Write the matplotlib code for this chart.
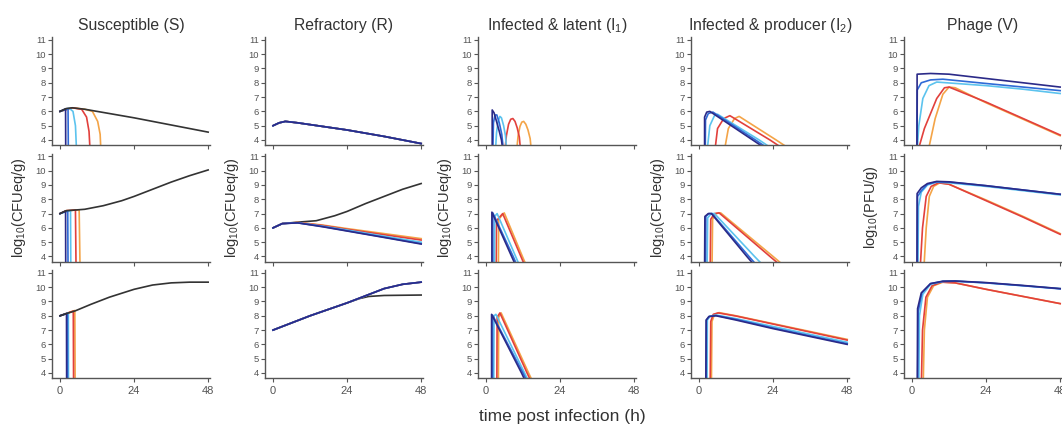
import matplotlib
matplotlib.use('Agg')
import matplotlib.pyplot as plt

plt.rcParams['font.family'] = ['Liberation Sans', 'DejaVu Sans']
plt.rcParams['mathtext.default'] = 'regular'

# ---------------- data (time h, log10 value) ----------------
titles = ['Susceptible (S)', 'Refractory (R)', r'Infected & latent (I$_1$)',
          r'Infected & producer (I$_2$)', 'Phage (V)']
ylabels = [r'log$_{10}$(CFUeq/g)'] * 4 + [r'log$_{10}$(PFU/g)']
xticks = [0, 24, 48]
yticks = [4, 5, 6, 7, 8, 9, 10, 11]
xlabel = 'time post infection (h)'

# Susceptible
S1 = dict(
    black=[(0, 6.0), (2, 6.2), (4, 6.25), (8, 6.15), (16, 5.85), (24, 5.55), (36, 5.05), (48, 4.55)],
    navy=[(0, 6.0), (1.8, 6.18), (1.85, 3.0)],
    blue=[(0, 6.0), (2.6, 6.2), (2.7, 3.0)],
    cyan=[(0, 6.0), (3, 6.22), (4.2, 6.0), (5.0, 5.0), (5.4, 3.0)],
    red=[(0, 6.0), (4, 6.25), (7, 6.15), (8.6, 5.6), (9.4, 4.6), (9.8, 3.0)],
    orange=[(0, 6.0), (4, 6.25), (8, 6.15), (10.5, 6.0), (12.2, 5.3), (13.0, 4.4), (13.3, 3.0)])
S2 = dict(
    black=[(0, 7.0), (2, 7.2), (8, 7.3), (14, 7.55), (20, 7.9), (24, 8.2), (30, 8.7), (36, 9.2), (42, 9.65), (48, 10.05)],
    navy=[(0, 7.0), (1.8, 7.18), (1.85, 3.0)],
    blue=[(0, 7.0), (2.5, 7.2), (2.6, 3.0)],
    cyan=[(0, 7.0), (3.4, 7.22), (3.5, 3.0)],
    red=[(0, 7.0), (2, 7.2), (5.0, 7.25), (5.2, 3.0)],
    orange=[(0, 7.0), (2, 7.2), (6.2, 7.26), (6.5, 3.0)])
S3 = dict(
    black=[(0, 8.0), (2, 8.15), (5, 8.35), (10, 8.8), (16, 9.3), (24, 9.85), (30, 10.15), (36, 10.3), (42, 10.35), (48, 10.35)],
    navy=[(0, 8.0), (2.1, 8.15), (2.15, 3.0)],
    blue=[(0, 8.0), (2.4, 8.18), (2.45, 3.0)],
    cyan=[(0, 8.0), (2.7, 8.2), (2.75, 3.0)],
    red=[(0, 8.0), (4.3, 8.33), (4.4, 3.0)],
    orange=[(0, 8.0), (4.8, 8.37), (4.9, 3.0)])

# Refractory
R1 = dict(
    black=[(0, 5.0), (2, 5.2), (4, 5.3), (8, 5.2), (16, 4.95), (24, 4.7), (36, 4.25), (48, 3.75)],
    orange=[(0, 5.0), (2, 5.2), (4, 5.3), (8, 5.2), (16, 4.95), (24, 4.7), (36, 4.25), (48, 3.75)],
    red=[(0, 5.0), (2, 5.2), (4, 5.3), (8, 5.2), (16, 4.95), (24, 4.7), (36, 4.25), (48, 3.75)],
    cyan=[(0, 5.0), (2, 5.2), (4, 5.3), (8, 5.2), (16, 4.95), (24, 4.7), (36, 4.25), (48, 3.75)],
    blue=[(0, 5.0), (2, 5.2), (4, 5.3), (8, 5.2), (16, 4.95), (24, 4.7), (36, 4.25), (48, 3.75)],
    navy=[(0, 5.0), (2, 5.2), (4, 5.3), (8, 5.2), (16, 4.95), (24, 4.7), (36, 4.25), (48, 3.75)])
R2 = dict(
    black=[(0, 6.0), (3, 6.3), (8, 6.4), (14, 6.5), (20, 6.85), (24, 7.15), (30, 7.7), (36, 8.2), (42, 8.7), (48, 9.1)],
    orange=[(0, 6.0), (3, 6.3), (8, 6.38), (16, 6.2), (24, 5.95), (36, 5.6), (48, 5.25)],
    red=[(0, 6.0), (3, 6.3), (8, 6.37), (16, 6.17), (24, 5.9), (36, 5.52), (48, 5.15)],
    cyan=[(0, 6.0), (3, 6.3), (8, 6.36), (16, 6.12), (24, 5.85), (36, 5.42), (48, 5.0)],
    blue=[(0, 6.0), (3, 6.3), (8, 6.35), (16, 6.1), (24, 5.8), (36, 5.35), (48, 4.9)],
    navy=[(0, 6.0), (3, 6.3), (8, 6.35), (16, 6.08), (24, 5.78), (36, 5.33), (48, 4.87)])
R3 = dict(
    black=[(0, 7.0), (6, 7.5), (12, 8.0), (18, 8.45), (24, 8.9), (28, 9.2), (31, 9.35), (36, 9.42), (48, 9.45)],
    orange=[(0, 7.0), (6, 7.5), (12, 8.0), (18, 8.45), (24, 8.9), (30, 9.4), (36, 9.9), (42, 10.2), (48, 10.35)],
    red=[(0, 7.0), (6, 7.5), (12, 8.0), (18, 8.45), (24, 8.9), (30, 9.4), (36, 9.9), (42, 10.2), (48, 10.35)],
    cyan=[(0, 7.0), (6, 7.5), (12, 8.0), (18, 8.45), (24, 8.9), (30, 9.4), (36, 9.9), (42, 10.2), (48, 10.35)],
    blue=[(0, 7.0), (6, 7.5), (12, 8.0), (18, 8.45), (24, 8.9), (30, 9.4), (36, 9.9), (42, 10.2), (48, 10.35)],
    navy=[(0, 7.0), (6, 7.5), (12, 8.0), (18, 8.45), (24, 8.9), (30, 9.4), (36, 9.9), (42, 10.2), (48, 10.35)])

# Infected & latent
I1a = dict(
    orange=[(9.8, 3.0), (10.4, 4.3), (11.0, 4.95), (11.6, 5.25), (12.2, 5.3), (12.9, 5.1), (13.6, 4.7), (14.3, 4.1), (14.8, 3.0)],
    red=[(6.0, 3.0), (6.6, 4.3), (7.3, 5.1), (8.0, 5.45), (8.7, 5.5), (9.4, 5.3), (10.1, 4.85), (10.8, 4.2), (11.3, 3.0)],
    cyan=[(3.0, 3.0), (3.4, 4.5), (3.9, 5.3), (4.5, 5.65), (5.0, 5.55), (5.7, 5.0), (6.3, 4.3), (6.8, 3.0)],
    blue=[(2.2, 3.0), (2.4, 5.2), (2.9, 5.75), (3.5, 5.75), (4.3, 5.2), (5.1, 4.4), (5.8, 3.0)],
    navy=[(2.0, 3.0), (2.0, 6.1), (2.6, 5.9), (3.4, 5.3), (4.3, 4.6), (5.0, 4.0), (5.6, 3.0)])
I1b = dict(
    orange=[(4.0, 3.0), (4.1, 6.6), (5.9, 7.05), (11.8, 4.0), (13.8, 3.0)],
    red=[(3.3, 3.0), (3.4, 6.5), (5.4, 7.0), (11.3, 4.0), (13.3, 3.0)],
    cyan=[(2.7, 3.0), (2.8, 6.8), (3.6, 7.0), (9.6, 4.0), (11.6, 3.0)],
    blue=[(2.2, 3.0), (2.2, 7.05), (8.8, 4.0), (10.8, 3.0)],
    navy=[(1.9, 3.0), (1.9, 7.1), (8.3, 4.0), (10.4, 3.0)])
I1c = dict(
    orange=[(4.0, 3.0), (4.1, 7.9), (4.9, 8.2), (13.8, 4.0), (16, 3.0)],
    red=[(3.5, 3.0), (3.6, 7.9), (4.5, 8.2), (13.3, 4.0), (15.5, 3.0)],
    cyan=[(2.5, 3.0), (2.6, 8.0), (3.2, 8.1), (12.5, 4.0), (14.7, 3.0)],
    blue=[(2.1, 3.0), (2.1, 8.05), (12.0, 4.0), (14.2, 3.0)],
    navy=[(1.8, 3.0), (1.8, 8.1), (11.5, 4.0), (13.7, 3.0)])

# Infected & producer
I2a = dict(
    orange=[(8.0, 3.0), (9.5, 4.8), (11.5, 5.5), (13, 5.65), (25.0, 4.0), (32, 3.0)],
    red=[(5.0, 3.0), (6.0, 4.8), (8, 5.5), (10, 5.7), (23.0, 4.0), (30, 3.0)],
    cyan=[(2.5, 3.0), (3.5, 5.0), (5, 5.7), (6, 5.8), (19.5, 4.0), (26.4, 3.0)],
    blue=[(2.0, 3.0), (2.1, 5.4), (3, 5.85), (4.5, 5.95), (18.3, 4.0), (25.2, 3.0)],
    navy=[(1.8, 3.0), (1.8, 5.6), (2.5, 5.95), (3.5, 6.0), (17.4, 4.0), (24.3, 3.0)])
I2b = dict(
    orange=[(4.2, 3.0), (4.4, 6.6), (5.5, 7.0), (7, 7.05), (24.0, 4.0), (29.5, 3.0)],
    red=[(3.6, 3.0), (3.8, 6.6), (5.0, 7.0), (6.5, 7.05), (23.0, 4.0), (28.5, 3.0)],
    cyan=[(2.6, 3.0), (2.8, 6.7), (4.0, 7.0), (5.0, 7.0), (18.0, 4.0), (22.5, 3.0)],
    blue=[(2.1, 3.0), (2.2, 6.8), (3.2, 7.0), (4.2, 7.0), (16.2, 4.0), (20.3, 3.0)],
    navy=[(1.8, 3.0), (1.9, 6.8), (3, 7.0), (4, 7.0), (15.5, 4.0), (19.5, 3.0)])
I2c = dict(
    orange=[(4.0, 3.0), (4.2, 7.6), (5.0, 8.1), (6.5, 8.22), (12, 8.0), (24, 7.45), (36, 6.9), (48, 6.35)],
    red=[(3.6, 3.0), (3.8, 7.6), (4.6, 8.1), (6.2, 8.2), (12, 7.98), (24, 7.42), (36, 6.86), (48, 6.3)],
    cyan=[(2.6, 3.0), (2.7, 7.7), (3.6, 7.98), (5.6, 8.05), (12, 7.8), (24, 7.25), (36, 6.7), (48, 6.15)],
    blue=[(2.3, 3.0), (2.4, 7.7), (3.3, 7.95), (5.5, 8.02), (12, 7.75), (24, 7.15), (36, 6.6), (48, 6.05)],
    navy=[(2.2, 3.0), (2.3, 7.7), (3.2, 7.95), (5.5, 8.0), (12, 7.7), (24, 7.1), (36, 6.55), (48, 6.0)])

# Phage
V1 = dict(
    orange=[(5.0, 3.0), (7.5, 5.5), (10, 7.2), (12, 7.7), (14, 7.65), (24, 6.6), (36, 5.45), (48, 4.3)],
    red=[(1.6, 3.0), (4, 4.8), (8, 6.9), (10.5, 7.65), (12, 7.7), (24, 6.65), (36, 5.5), (48, 4.35)],
    cyan=[(1.6, 3.0), (2.2, 5.0), (3.5, 6.9), (5.5, 7.8), (8, 8.05), (24, 7.8), (36, 7.55), (48, 7.25)],
    blue=[(1.6, 3.0), (1.7, 7.5), (3, 8.0), (6, 8.2), (10, 8.25), (24, 7.95), (36, 7.7), (48, 7.45)],
    navy=[(1.6, 3.0), (1.65, 8.6), (6, 8.65), (12, 8.6), (24, 8.3), (36, 8.0), (48, 7.7)])
V2 = dict(
    orange=[(3.8, 3.0), (4.6, 6.0), (5.6, 8.2), (7, 8.9), (9, 9.15), (12, 9.05), (24, 7.95), (36, 6.8), (48, 5.6)],
    red=[(2.6, 3.0), (3.4, 6.0), (4.6, 8.2), (6.2, 8.9), (8.5, 9.15), (12, 9.05), (24, 7.9), (36, 6.75), (48, 5.55)],
    cyan=[(1.9, 3.0), (2.1, 7.5), (3, 8.5), (5, 9.0), (8, 9.2), (12, 9.15), (24, 8.9), (36, 8.6), (48, 8.3)],
    blue=[(1.7, 3.0), (1.8, 8.2), (3, 8.6), (5, 9.05), (8, 9.22), (12, 9.2), (24, 8.95), (36, 8.65), (48, 8.35)],
    navy=[(1.6, 3.0), (1.65, 8.4), (3, 8.8), (5, 9.1), (8, 9.25), (12, 9.22), (24, 8.95), (36, 8.65), (48, 8.35)])
V3 = dict(
    orange=[(3.6, 3.0), (4.0, 7.0), (5, 9.3), (7, 10.1), (10, 10.35), (14, 10.3), (24, 9.85), (36, 9.35), (48, 8.85)],
    red=[(3.0, 3.0), (3.4, 7.0), (4.5, 9.3), (6.5, 10.1), (9.5, 10.35), (14, 10.3), (24, 9.85), (36, 9.35), (48, 8.85)],
    cyan=[(2.2, 3.0), (2.4, 8.0), (3.5, 9.5), (6, 10.2), (10, 10.4), (14, 10.42), (24, 10.3), (36, 10.1), (48, 9.9)],
    blue=[(1.8, 3.0), (2.0, 8.3), (3.2, 9.6), (6, 10.25), (10, 10.4), (14, 10.42), (24, 10.3), (36, 10.1), (48, 9.88)],
    navy=[(1.7, 3.0), (1.8, 8.5), (3, 9.6), (6, 10.25), (10, 10.42), (14, 10.43), (24, 10.32), (36, 10.12), (48, 9.9)])

panels = [[S1, R1, I1a, I2a, V1],
          [S2, R2, I1b, I2b, V2],
          [S3, R3, I1c, I2c, V3]]

colors = {'navy': '#2b2a88', 'blue': '#2f6ad6', 'cyan': '#5cc3ee',
          'red': '#e2403c', 'orange': '#f4a447', 'black': '#333333'}
order = ['orange', 'red', 'cyan', 'blue', 'navy']

# ---------------- layout ----------------
W, H = 1062, 430
fig = plt.figure(figsize=(W / 100, H / 100), dpi=100)
lefts = [52, 265, 478, 691, 904]
bottoms = [145, 261.5, 378]
aw, ah = 158, 108
grey = '#555555'

for r in range(3):
    for c in range(5):
        ax = fig.add_axes([lefts[c] / W, 1 - bottoms[r] / H, aw / W, ah / H])
        data = panels[r][c]
        black_top = (c == 0)
        if 'black' in data and not black_top:
            t, y = zip(*data['black'])
            ax.plot(t, y, color=colors['black'], lw=1.2, zorder=1)
        for k in order:
            if k in data:
                t, y = zip(*data[k])
                ax.plot(t, y, color=colors[k], lw=1.2, zorder=2)
        if 'black' in data and black_top:
            t, y = zip(*data['black'])
            ax.plot(t, y, color=colors['black'], lw=1.2, zorder=3)
        ax.set_xlim(-2.6, 48.6)
        ax.set_ylim(3.65, 11.2)
        ax.set_xticks(xticks)
        ax.set_yticks(yticks)
        if r == 2:
            ax.set_xticklabels([str(v) for v in xticks])
        else:
            ax.set_xticklabels([])
        for s in ['top', 'right']:
            ax.spines[s].set_visible(False)
        for s in ['left', 'bottom']:
            ax.spines[s].set_color(grey)
            ax.spines[s].set_linewidth(1.0)
        ax.tick_params(direction='out', length=3, width=0.8, color=grey,
                       labelcolor=grey, labelsize=6.8, pad=1.5)
        ax.tick_params(axis='x', labelsize=8, pad=2.5)
        if r == 0:
            ax.set_title(titles[c], fontsize=11.3, color='#333333', pad=5)
        if r == 1:
            ax.set_ylabel(ylabels[c], fontsize=10.5, color='#333333')
            ax.yaxis.set_label_coords(-0.155, 0.5)

fig.text(562 / W, 1 - 416 / H, xlabel, ha='center', va='center', fontsize=12.5, color='#333333')
fig.savefig('out.png', dpi=100)
